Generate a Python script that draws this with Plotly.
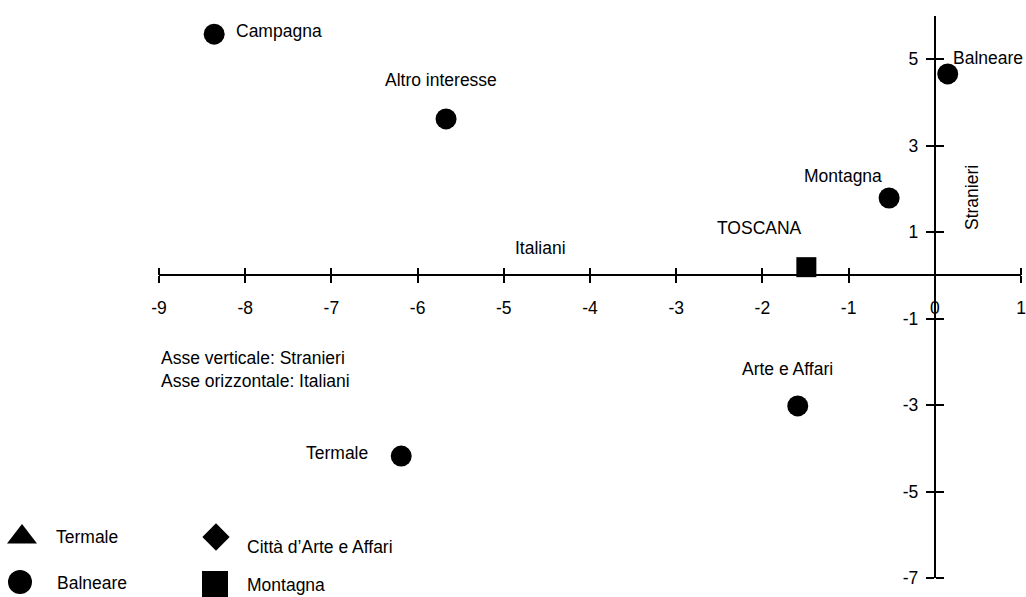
import plotly.graph_objects as go

W, H = 1026, 597

# ---------------- data ----------------
point_names = ["Campagna", "Altro interesse", "Balneare", "Montagna", "Arte e Affari", "Termale"]
point_x = [-8.36, -5.67, 0.15, -0.53, -1.59, -6.19]
point_y = [5.58, 3.62, 4.66, 1.79, -3.02, -4.18]

region_name = ["TOSCANA"]
region_x = [-1.49]
region_y = [0.19]

x_ticks = [-9, -8, -7, -6, -5, -4, -3, -2, -1, 0, 1]
y_ticks = [-7, -5, -3, -1, 1, 3, 5]
x_range = [-9, 1]
y_range = [-7, 6]

x_title = "Italiani"
y_title = "Stranieri"
note_lines = ["Asse verticale: Stranieri", "Asse orizzontale: Italiani"]

key_labels = ["Termale", "Balneare", "Città d’Arte e Affari", "Montagna"]
key_symbols = ["triangle-up", "circle", "diamond", "square"]

# ---------------- layout constants ----------------
FONT = "Liberation Sans Narrow, Arial Narrow, Liberation Sans, Arial, sans-serif"
FS = 17.5
px_left, px_right = 159, 1021
px_top, px_bottom = 16, 578

xdom = [px_left / W, px_right / W]
ydom = [(H - px_bottom) / H, (H - px_top) / H]
plot_w = px_right - px_left
plot_h = px_bottom - px_top
# paper positions where the axes cross zero
xaxis_pos = ydom[0] + (0 - y_range[0]) / (y_range[1] - y_range[0]) * plot_h / H
yaxis_pos = xdom[0] + (0 - x_range[0]) / (x_range[1] - x_range[0]) * plot_w / W

# label offsets (pixels) relative to their point
label_style = {
    "Campagna": dict(xanchor="left", xshift=20, yshift=3),
    "Altro interesse": dict(xanchor="center", xshift=-5, yshift=39),
    "Balneare": dict(xanchor="left", xshift=3, yshift=16),
    "Montagna": dict(xanchor="center", xshift=-46, yshift=22),
    "Arte e Affari": dict(xanchor="center", xshift=-10, yshift=37),
    "Termale": dict(xanchor="right", xshift=-31, yshift=3),
    "TOSCANA": dict(xanchor="center", xshift=-47, yshift=39),
}

# key layout (pixel coordinates on an overlay covering the page)
key_marker_pos = [(22, 537), (20, 582), (216, 537), (215, 584)]
key_marker_size = [26, 24, 21, 26]
key_text_pos = [(54, 537), (55, 583), (245, 547), (245, 585)]

fig = go.Figure()

fig.add_trace(go.Scatter(
    x=point_x, y=point_y, mode="markers",
    marker=dict(symbol="circle", size=21, color="black", opacity=1, line=dict(width=0)),
    cliponaxis=False, showlegend=False, hoverinfo="skip",
))
fig.add_trace(go.Scatter(
    x=region_x, y=region_y, mode="markers",
    marker=dict(symbol="square", size=20, color="black", opacity=1, line=dict(width=0)),
    cliponaxis=False, showlegend=False, hoverinfo="skip",
))
# dummy traces so mirrored tick axes are drawn
fig.add_trace(go.Scatter(x=[None], y=[None], xaxis="x2", yaxis="y", showlegend=False))
fig.add_trace(go.Scatter(x=[None], y=[None], xaxis="x", yaxis="y2", showlegend=False))

# key markers on page-overlay axes
fig.add_trace(go.Scatter(
    x=[p[0] for p in key_marker_pos], y=[p[1] for p in key_marker_pos],
    mode="markers", xaxis="x3", yaxis="y3", opacity=1,
    marker=dict(symbol=key_symbols, size=key_marker_size, color="#000000", opacity=1,
                line=dict(width=0)),
    cliponaxis=False, showlegend=False, hoverinfo="skip",
))

annotations = []
for name, x, y in zip(point_names + region_name, point_x + region_x, point_y + region_y):
    st = label_style[name]
    annotations.append(dict(
        x=x, y=y, xref="x", yref="y", text=name, showarrow=False,
        xanchor=st["xanchor"], yanchor="middle", xshift=st["xshift"], yshift=st["yshift"],
        font=dict(family=FONT, size=FS, color="black"),
    ))

annotations.append(dict(x=-4.57, y=0.63, xref="x", yref="y", text=x_title, showarrow=False,
                        xanchor="center", yanchor="middle",
                        font=dict(family=FONT, size=FS, color="black")))
annotations.append(dict(x=0.432, y=1.79, xref="x", yref="y", text=y_title, showarrow=False,
                        textangle=-90, xanchor="center", yanchor="middle",
                        font=dict(family=FONT, size=FS, color="black")))
annotations.append(dict(x=-9, y=-2.17, xref="x", yref="y", text="<br>".join(note_lines),
                        showarrow=False, xanchor="left", yanchor="middle", align="left",
                        font=dict(family=FONT, size=FS, color="black")))

for (tx, ty), lab in zip(key_text_pos, key_labels):
    annotations.append(dict(x=tx, y=ty, xref="x3", yref="y3", text=lab, showarrow=False,
                            xanchor="left", yanchor="middle",
                            font=dict(family=FONT, size=FS, color="black")))

tickfont = dict(family=FONT, size=FS, color="black")
common_axis = dict(showgrid=False, zeroline=False, fixedrange=True, automargin=False)

fig.update_layout(
    width=W, height=H,
    margin=dict(l=0, r=0, t=0, b=0, autoexpand=False),
    paper_bgcolor="white", plot_bgcolor="rgba(0,0,0,0)",
    showlegend=False,
    xaxis=dict(domain=xdom, range=x_range, anchor="free", position=xaxis_pos,
               tickmode="array", tickvals=x_ticks, ticktext=[str(v) for v in x_ticks],
               ticks="outside", ticklen=7, tickwidth=2, tickcolor="black",
               showline=True, linewidth=2, linecolor="black",
               tickfont=tickfont, ticklabelstandoff=10, **common_axis),
    xaxis2=dict(domain=xdom, range=x_range, overlaying="x", side="top", anchor="free",
                position=xaxis_pos, tickmode="array", tickvals=x_ticks,
                ticks="outside", ticklen=7, tickwidth=2, tickcolor="black",
                showticklabels=False, showline=False, **common_axis),
    yaxis=dict(domain=ydom, range=y_range, anchor="free", position=yaxis_pos,
               tickmode="array", tickvals=y_ticks, ticktext=[str(v) for v in y_ticks],
               ticks="outside", ticklen=8, tickwidth=2, tickcolor="black",
               showline=True, linewidth=2, linecolor="black",
               tickfont=tickfont, ticklabelstandoff=4, **common_axis),
    yaxis2=dict(domain=ydom, range=y_range, overlaying="y", side="right", anchor="free",
                position=yaxis_pos, tickmode="array", tickvals=y_ticks,
                ticks="outside", ticklen=8, tickwidth=2, tickcolor="black",
                showticklabels=False, showline=False, **common_axis),
    xaxis3=dict(domain=[0, 1], range=[0, W], anchor="y3", visible=False, **common_axis),
    yaxis3=dict(domain=[0, 1], range=[H, 0], anchor="x3", visible=False, **common_axis),
    annotations=annotations,
)

fig.write_html(
    "out.html",
    config={"displayModeBar": False, "staticPlot": True},
    post_script="document.body.style.margin='0';document.body.style.padding='0';",
)
